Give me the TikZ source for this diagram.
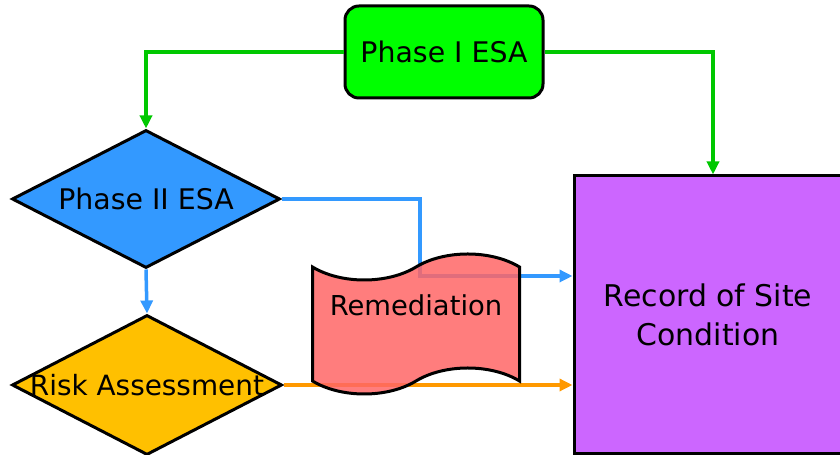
\documentclass[tikz,border=0pt]{standalone}
\usepackage{fontspec}
\setmainfont{DejaVu Sans}
\usetikzlibrary{arrows.meta,shapes.geometric,shapes.symbols,positioning}
\definecolor{PhaseGreen}{RGB}{0,255,0}
\definecolor{LinkGreen}{RGB}{0,200,0}
\definecolor{PhaseBlue}{RGB}{51,153,255}
\definecolor{RiskGold}{RGB}{255,192,0}
\definecolor{LinkOrange}{RGB}{255,153,0}
\definecolor{RecordPurple}{RGB}{204,102,255}
\definecolor{RemedRed}{RGB}{255,102,102}

\begin{document}
\begin{tikzpicture}[x=1bp,y=1bp,>={Triangle[length=13bp,width=12bp]},
    box/.style={draw,line width=3bp,inner sep=0pt,font=\fontsize{28.5}{39}\selectfont},
    link/.style={->,line width=3.5bp}]
  \useasboundingbox (0,0) rectangle (840,455);
  \node[box,rounded corners=14bp,fill=PhaseGreen,minimum width=198bp,minimum height=92bp]
    (esa1) at (444,403) {Phase I ESA};
  \node[box,diamond,aspect=1.94,fill=PhaseBlue,minimum width=268bp,minimum height=138bp]
    (esa2) at (146,256) {Phase II ESA};
  \node[box,diamond,aspect=1.93,fill=RiskGold,minimum width=270bp,minimum height=140bp,
    label={[font=\fontsize{28}{39}\selectfont]center:Risk Assessment}]
    (risk) at (147,70) {};
  \node[box,fill=RecordPurple,minimum width=268bp,minimum height=278bp,align=center,
    font=\fontsize{30}{39}\selectfont]
    (rsc) at (708,140) {Record of Site\\Condition};
  \coordinate (bend) at (420,179);
  % connectors
  \draw[link,LinkGreen] (esa1.west) -| (esa2.north);
  \draw[link,LinkGreen] (esa1.east) -| ([xshift=5bp]rsc.north);
  \draw[link,PhaseBlue] (esa2.east) -| (bend) -- (bend -| rsc.west);
  \draw[link,PhaseBlue] (esa2.south) -- (risk.north);
  \draw[link,LinkOrange] (risk.east) -- (risk.east -| rsc.west);
  % remediation sits over the lines
  \node[box,tape,fill=RemedRed,fill opacity=0.85,
    minimum width=207bp,minimum height=140bp,tape bend height=26bp,
    label={[font=\fontsize{27.5}{39}\selectfont,yshift=19bp]center:Remediation}]
    (remed) at (416,131) {};
\end{tikzpicture}
\end{document}
